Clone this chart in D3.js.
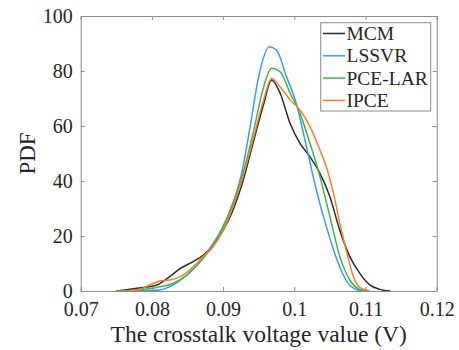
<!DOCTYPE html>
<html>
<head>
<meta charset="utf-8">
<script src="https://cdn.jsdelivr.net/npm/d3@7"></script>
<style>
  html, body { margin: 0; padding: 0; background: #fff; }
  svg { display: block; }
  svg text { font-family: "Liberation Serif", "Times New Roman", serif !important; }
</style>
</head>
<body>
<svg id="chart" width="459" height="350"></svg>
<script>
// ---- data ----
const seriesNames = ["MCM", "LSSVR", "PCE-LAR", "IPCE"];
const seriesColors = ["#2b2b2b", "#3b9be6", "#46b446", "#f47d34"];

const mcmX = [0.0750, 0.0779, 0.0807, 0.0825, 0.0840, 0.0858, 0.0872, 0.0886, 0.0900, 0.0914, 0.0928, 0.0942, 0.0957, 0.0968, 0.0980, 0.0994, 0.1008, 0.1022, 0.1036, 0.1050, 0.1064, 0.1078, 0.1092, 0.1106, 0.1120, 0.1135];
const mcmY = [0, 1.0, 2.2, 5.2, 8.2, 10.7, 13.0, 16.7, 22.0, 29.5, 40.0, 53.7, 68.0, 76.7, 72.0, 61.0, 53.7, 48.8, 42.8, 34.3, 22.0, 12.5, 6.4, 2.2, 0.6, 0];

const lssvrX = [0.0760, 0.0779, 0.0811, 0.0830, 0.0849, 0.0868, 0.0886, 0.0900, 0.0914, 0.0926, 0.0938, 0.0950, 0.0965, 0.0975, 0.0989, 0.1003, 0.1017, 0.1031, 0.1045, 0.1060, 0.1074, 0.1088, 0.1097];
const lssvrY = [0, 0.1, 0.4, 2.2, 5.8, 10.7, 17.3, 23.4, 32.0, 42.8, 59.8, 78.0, 88.8, 87.6, 78.0, 68.0, 52.5, 36.7, 23.4, 11.3, 3.4, 0.4, 0];

const pceX = [0.0750, 0.0779, 0.0807, 0.0830, 0.0849, 0.0868, 0.0886, 0.0900, 0.0914, 0.0928, 0.0942, 0.0957, 0.0968, 0.0980, 0.0994, 0.1008, 0.1022, 0.1036, 0.1050, 0.1064, 0.1078, 0.1092, 0.1106];
const pceY = [0, 0.4, 1.3, 2.8, 5.8, 10.7, 16.7, 23.4, 32.0, 42.8, 57.3, 74.3, 81.0, 79.8, 72.0, 64.6, 53.7, 41.6, 27.0, 12.5, 4.0, 0.6, 0];

const ipceX = [0.0765, 0.0783, 0.0797, 0.0811, 0.0825, 0.0840, 0.0858, 0.0872, 0.0886, 0.0900, 0.0914, 0.0928, 0.0942, 0.0957, 0.0968, 0.0980, 0.0994, 0.1008, 0.1022, 0.1036, 0.1045, 0.1055, 0.1064, 0.1074, 0.1083, 0.1092, 0.1106];
const ipceY = [0, 0.6, 2.2, 3.6, 4.0, 5.2, 8.8, 12.5, 16.1, 22.0, 30.7, 41.6, 55.0, 69.5, 77.3, 74.3, 69.5, 65.8, 59.8, 51.3, 45.2, 35.5, 24.6, 13.7, 5.2, 1.3, 0];

const xTicks = [0.07, 0.08, 0.09, 0.1, 0.11, 0.12];
const xTickLabels = ["0.07", "0.08", "0.09", "0.1", "0.11", "0.12"];
const yTicks = [0, 20, 40, 60, 80, 100];

// ---- layout ----
const svg = d3.select("#chart");
const pLeft = 80.7, pRight = 436.7, pTop = 16, pBottom = 291;
const x = d3.scaleLinear().domain([0.07, 0.12]).range([pLeft, pRight]);
const y = d3.scaleLinear().domain([0, 100]).range([pBottom, pTop]);

const axisColor = "#8c8c8c";
const textColor = "#262626";
const tickLen = 4;
const tickFont = 20;

// curves
const seriesX = [mcmX, lssvrX, pceX, ipceX];
const seriesY = [mcmY, lssvrY, pceY, ipceY];
const line = d3.line().x(d => x(d[0])).y(d => y(d[1])).curve(d3.curveMonotoneX);
svg.append("clipPath").attr("id", "plotclip").append("rect")
  .attr("x", pLeft).attr("y", pTop).attr("width", pRight - pLeft).attr("height", pBottom - pTop);
const plotG = svg.append("g").attr("clip-path", "url(#plotclip)");
seriesNames.forEach((name, i) => {
  const pts = seriesX[i].map((xv, j) => [xv, seriesY[i][j]]);
  plotG.append("path").datum(pts)
    .attr("d", line)
    .attr("fill", "none")
    .attr("stroke", seriesColors[i])
    .attr("stroke-width", 1.5)
    .attr("stroke-linejoin", "round");
});

// axes
const xAxisB = d3.axisBottom(x).tickValues(xTicks).tickFormat((d, i) => xTickLabels[i]).tickSizeInner(-tickLen).tickSizeOuter(0).tickPadding(10.5);
const xAxisT = d3.axisTop(x).tickValues(xTicks).tickFormat("").tickSizeInner(-tickLen).tickSizeOuter(0);
const yAxisL = d3.axisLeft(y).tickValues(yTicks).tickSizeInner(-tickLen).tickSizeOuter(0).tickPadding(8);
const yAxisR = d3.axisRight(y).tickValues(yTicks).tickFormat("").tickSizeInner(-tickLen).tickSizeOuter(0);

function styleAxis(g) {
  g.attr("font-family", null).attr("font-size", null);
  g.selectAll("path.domain").attr("stroke", axisColor).attr("stroke-width", 1);
  g.selectAll(".tick line").attr("stroke", axisColor).attr("stroke-width", 1);
  g.selectAll(".tick text").attr("fill", textColor).style("font-size", tickFont + "px");
}
svg.append("g").attr("transform", `translate(0,${pBottom})`).call(xAxisB).call(styleAxis);
svg.append("g").attr("transform", `translate(0,${pTop})`).call(xAxisT).call(styleAxis);
svg.append("g").attr("transform", `translate(${pLeft},0)`).call(yAxisL).call(styleAxis);
svg.append("g").attr("transform", `translate(${pRight},0)`).call(yAxisR).call(styleAxis);

// axis labels
svg.append("text").attr("x", (pLeft + pRight) / 2).attr("y", 342)
  .attr("text-anchor", "middle").style("font-size", "23.5px").attr("fill", textColor)
  .text("The crosstalk voltage value (V)");
svg.append("text").attr("transform", `translate(35,${(pTop + pBottom) / 2}) rotate(-90)`)
  .attr("text-anchor", "middle").style("font-size", "23px").attr("fill", textColor)
  .text("PDF");

// legend
const lg = svg.append("g");
lg.append("rect").attr("x", 320.7).attr("y", 22.7).attr("width", 110).attr("height", 88.3)
  .attr("fill", "#fff").attr("stroke", axisColor).attr("stroke-width", 1);
seriesNames.forEach((name, i) => {
  const cy = 33.5 + i * 22.3;
  lg.append("line").attr("x1", 323).attr("x2", 345).attr("y1", cy).attr("y2", cy)
    .attr("stroke", seriesColors[i]).attr("stroke-width", 1.5);
  lg.append("text").attr("x", 346.5).attr("y", cy + 6.5).style("font-size", "19.5px")
    .attr("fill", textColor).text(name);
});
</script>
</body>
</html>
